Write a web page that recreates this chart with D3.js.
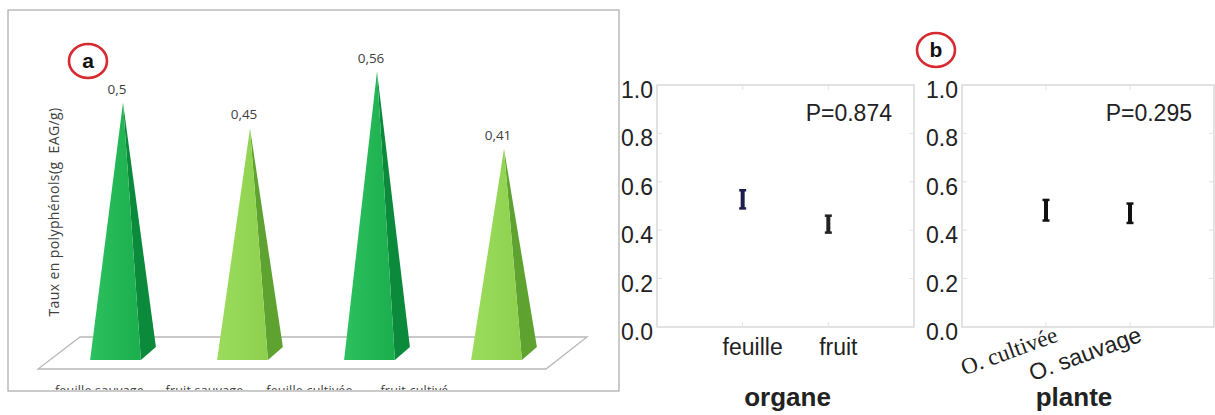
<!DOCTYPE html>
<html>
<head>
<meta charset="utf-8">
<script src="https://cdn.jsdelivr.net/npm/d3@7"></script>
<style>
  body { margin: 0; background: #fff; }
  svg { display: block; }
</style>
</head>
<body>
<div id="chart"></div>
<script>
// panel a
const categories = ["feuille sauvage", "fruit sauvage", "feuille cultivée", "fruit cultivé"];
const values = [0.5, 0.45, 0.56, 0.41];
const valueLabels = ["0,5", "0,45", "0,56", "0,41"];
const kinds = ["feuille", "fruit", "feuille", "fruit"];

// panel b
const organes = ["feuille", "fruit"];
const organeMean = [0.53, 0.43];
const organeLow = [0.49, 0.39];
const organeHigh = [0.565, 0.46];
const plantes = ["O. cultivée", "O. sauvage"];
const planteMean = [0.485, 0.47];
const planteLow = [0.44, 0.43];
const planteHigh = [0.525, 0.51];
const yTicks = [0, 0.2, 0.4, 0.6, 0.8, 1.0];

const width = 1215, height = 415;
const svg = d3.select("#chart").append("svg")
  .attr("width", width).attr("height", height);

// ---------- panel a : 3d pyramids ----------
const A = { left: 8, top: 10, right: 619, bottom: 391 };
svg.append("clipPath").attr("id", "clipA")
  .append("rect").attr("x", A.left).attr("y", A.top)
  .attr("width", A.right - A.left).attr("height", A.bottom - A.top - 1);

const ga = svg.append("g").attr("clip-path", "url(#clipA)");

const x = d3.scaleBand().domain(categories).range([52, 560])
  .paddingInner(0.6).paddingOuter(0.3);
const y = d3.scaleLinear().domain([0, 0.6]).range([360, 51]);
const depth = { dx: 15, dy: -13 };

// floor
ga.append("path")
  .attr("d", "M80,337 L587,337 L546,369 L38,369 Z")
  .attr("fill", "none").attr("stroke", "#b8b8b8").attr("stroke-width", 1.3);

const faces = {
  feuille: { front: "#1cae4e", side: "#0c8a3b", light: "#2cc05e" },
  fruit: { front: "#8ed04e", side: "#5ea330", light: "#9bdc5c" }
};

const defs = svg.append("defs");
Object.entries(faces).forEach(([k, c]) => {
  const lg = defs.append("linearGradient").attr("id", "g-" + k)
    .attr("x1", 0).attr("x2", 1).attr("y1", 0).attr("y2", 0);
  lg.append("stop").attr("offset", 0).attr("stop-color", c.light);
  lg.append("stop").attr("offset", 1).attr("stop-color", c.front);
});

const pyr = ga.selectAll(".pyr").data(categories).join("g").attr("class", "pyr");
pyr.each(function (d, i) {
  const g = d3.select(this);
  const x0 = x(d), x1 = x(d) + x.bandwidth(), yb = y(0);
  const ax = (x0 + x1) / 2 + depth.dx / 2, ay = y(values[i]);
  const c = faces[kinds[i]];
  g.append("path")
    .attr("d", `M${x1},${yb} L${x1 + depth.dx},${yb + depth.dy} L${ax},${ay} Z`)
    .attr("fill", c.side);
  g.append("path")
    .attr("d", `M${x0},${yb} L${x1},${yb} L${ax},${ay} Z`)
    .attr("fill", `url(#g-${kinds[i]})`);
  g.append("text")
    .attr("x", ax - 6).attr("y", ay - 9)
    .attr("text-anchor", "middle")
    .attr("font-family", "Open Sans, sans-serif").attr("font-size", 13.5)
    .attr("fill", "#404040")
    .text(valueLabels[i]);
});

// category labels (partly hidden by the frame, as in the source)
const xl = d3.scaleBand().domain(categories).range([47, 467]);
ga.selectAll(".cat").data(categories).join("text")
  .attr("x", d => xl(d) + xl.bandwidth() / 2)
  .attr("y", 394.5)
  .attr("text-anchor", "middle")
  .attr("font-family", "Open Sans, sans-serif").attr("font-size", 12.5)
  .attr("letter-spacing", 0.2)
  .attr("fill", "#404040")
  .text(d => d);

ga.append("text")
  .attr("transform", "translate(59,212) rotate(-90)")
  .attr("text-anchor", "middle")
  .attr("font-family", "Open Sans, sans-serif").attr("font-size", 14)
  .attr("letter-spacing", 0.4)
  .attr("fill", "#404040")
  .text("Taux en polyphénols(g\u00a0 EAG/g)");

svg.append("rect")
  .attr("x", A.left).attr("y", A.top)
  .attr("width", A.right - A.left).attr("height", A.bottom - A.top)
  .attr("fill", "none").attr("stroke", "#b0b0b0").attr("stroke-width", 1.3);

function badge(cx, cy, letter) {
  svg.append("ellipse").attr("cx", cx).attr("cy", cy).attr("rx", 19).attr("ry", 17)
    .attr("fill", "#fff").attr("stroke", "#d62a2f").attr("stroke-width", 2.6);
  svg.append("text").attr("x", cx).attr("y", cy + 7)
    .attr("text-anchor", "middle")
    .attr("font-family", "Liberation Sans, Arial, sans-serif")
    .attr("font-weight", "bold").attr("font-size", 21)
    .attr("fill", "#111").text(letter);
}
badge(88, 61, "a");
badge(936, 50, "b");

// ---------- panel b : error bar plots ----------
const yb = d3.scaleLinear().domain([0, 1]).range([327, 85]);
const sans = "Liberation Sans, Arial, sans-serif";

function errPlot(left, right, cats, mean, low, high, pText, title, rotate, fonts, barColors) {
  const g = svg.append("g");
  const xp = d3.scalePoint().domain(cats).range([left, right]).padding(1);

  g.append("rect").attr("x", left).attr("y", yb(1))
    .attr("width", right - left).attr("height", yb(0) - yb(1))
    .attr("fill", "none").attr("stroke", "#cfcfcf").attr("stroke-width", 1.2);

  // faint inner ticks
  cats.forEach(c => {
    g.append("line").attr("x1", xp(c)).attr("x2", xp(c))
      .attr("y1", yb(1)).attr("y2", yb(1) + 5).attr("stroke", "#e2e2e2");
    g.append("line").attr("x1", xp(c)).attr("x2", xp(c))
      .attr("y1", yb(0)).attr("y2", yb(0) - 5).attr("stroke", "#e2e2e2");
  });
  yTicks.forEach(t => {
    g.append("line").attr("x1", right).attr("x2", right - 5)
      .attr("y1", yb(t)).attr("y2", yb(t)).attr("stroke", "#e2e2e2");
    g.append("line").attr("x1", left).attr("x2", left + 5)
      .attr("y1", yb(t)).attr("y2", yb(t)).attr("stroke", "#e2e2e2");
  });

  g.selectAll(".yt").data(yTicks).join("text")
    .attr("x", left - 4).attr("y", d => yb(d) + 7)
    .attr("dominant-baseline", "middle")
    .attr("text-anchor", "end")
    .attr("font-family", sans).attr("font-size", 23)
    .attr("fill", "#222")
    .text(d => d.toFixed(1));

  cats.forEach((c, i) => {
    const cx = xp(c);
    const col = barColors[i];
    g.append("line").attr("x1", cx).attr("x2", cx)
      .attr("y1", yb(high[i])).attr("y2", yb(low[i]))
      .attr("stroke", col).attr("stroke-width", 4);
    [low[i], high[i]].forEach(v => {
      g.append("line").attr("x1", cx - 3.5).attr("x2", cx + 3.5)
        .attr("y1", yb(v)).attr("y2", yb(v))
        .attr("stroke", col).attr("stroke-width", 2.5);
    });
  });

  g.append("text")
    .attr("x", right - 22).attr("y", yb(0.884) + 2)
    .attr("text-anchor", "end")
    .attr("dominant-baseline", "middle")
    .attr("font-family", sans).attr("font-size", 23)
    .attr("fill", "#222").text(pText);

  cats.forEach((c, i) => {
    const t = g.append("text")
      .attr("font-family", fonts[i]).attr("font-size", 23)
      .attr("fill", "#222").text(c);
    if (rotate) {
      t.attr("text-anchor", "end")
        .attr("transform", `translate(${xp(c) + 13},${yb(0) + 14}) rotate(-20)`);
    } else {
      t.attr("text-anchor", "middle")
        .attr("x", xp(c) + 10).attr("y", yb(0) + 28);
    }
  });

  g.append("text")
    .attr("x", (left + right) / 2 + (rotate ? -14 : 2)).attr("y", 406)
    .attr("text-anchor", "middle")
    .attr("font-family", sans)
    .attr("font-weight", "bold").attr("font-size", 26)
    .attr("fill", "#222").text(title);
}

errPlot(657, 914, organes, organeMean, organeLow, organeHigh, "P=0.874", "organe", false,
  [sans, sans], ["#1d1d4d", "#222"]);
errPlot(962, 1214, plantes, planteMean, planteLow, planteHigh, "P=0.295", "plante", true,
  ["Liberation Serif, Times New Roman, serif", sans], ["#111", "#111"]);
</script>
</body>
</html>
